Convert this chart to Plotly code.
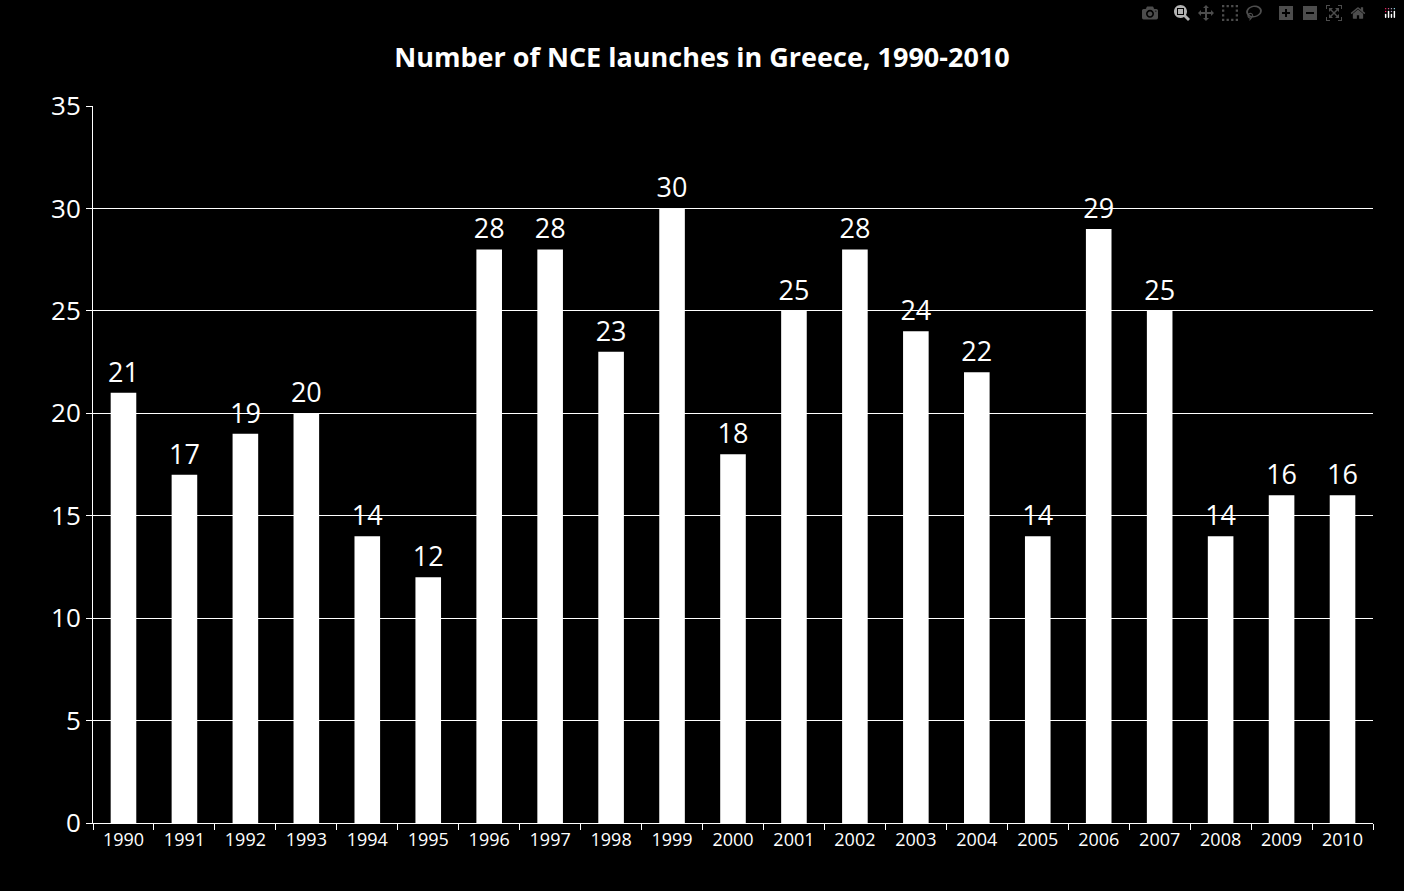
import plotly.graph_objects as go

years = [str(y) for y in range(1990, 2011)]
launches = [21, 17, 19, 20, 14, 12, 28, 28, 23, 30, 18, 25, 28, 24, 22, 14, 29, 25, 14, 16, 16]

fig = go.Figure(go.Bar(
    x=years, y=launches,
    marker=dict(color="white", line=dict(width=0)),
    text=launches, textposition="outside", cliponaxis=False, constraintext="none",
    textfont=dict(color="white", size=27, family="Open Sans"),
))

fig.update_layout(
    width=1404, height=891,
    paper_bgcolor="black", plot_bgcolor="black",
    margin=dict(l=93, r=31, t=106, b=68),
    bargap=0.58,
    showlegend=False,
    title=dict(text="<b>Number of NCE launches in Greece, 1990-2010</b>",
               x=0.5, xanchor="center", y=0.946,
               font=dict(color="white", size=27, family="Open Sans")),
    font=dict(color="white", family="Open Sans"),
)
fig.update_yaxes(range=[0, 35], dtick=5, showgrid=True, gridcolor="white", gridwidth=1,
                 showline=True, linecolor="white", linewidth=1,
                 ticks="outside", ticklen=6, tickcolor="white",
                 tickfont=dict(size=26, color="white"), zeroline=False)
fig.update_xaxes(showline=True, linecolor="white", linewidth=1,
                 ticks="outside", tickson="boundaries", ticklen=6, tickcolor="white",
                 tickfont=dict(size=18, color="white"))

fig.write_html("out.html",
               post_script="document.body.style.margin='0';document.body.style.background='black';")
